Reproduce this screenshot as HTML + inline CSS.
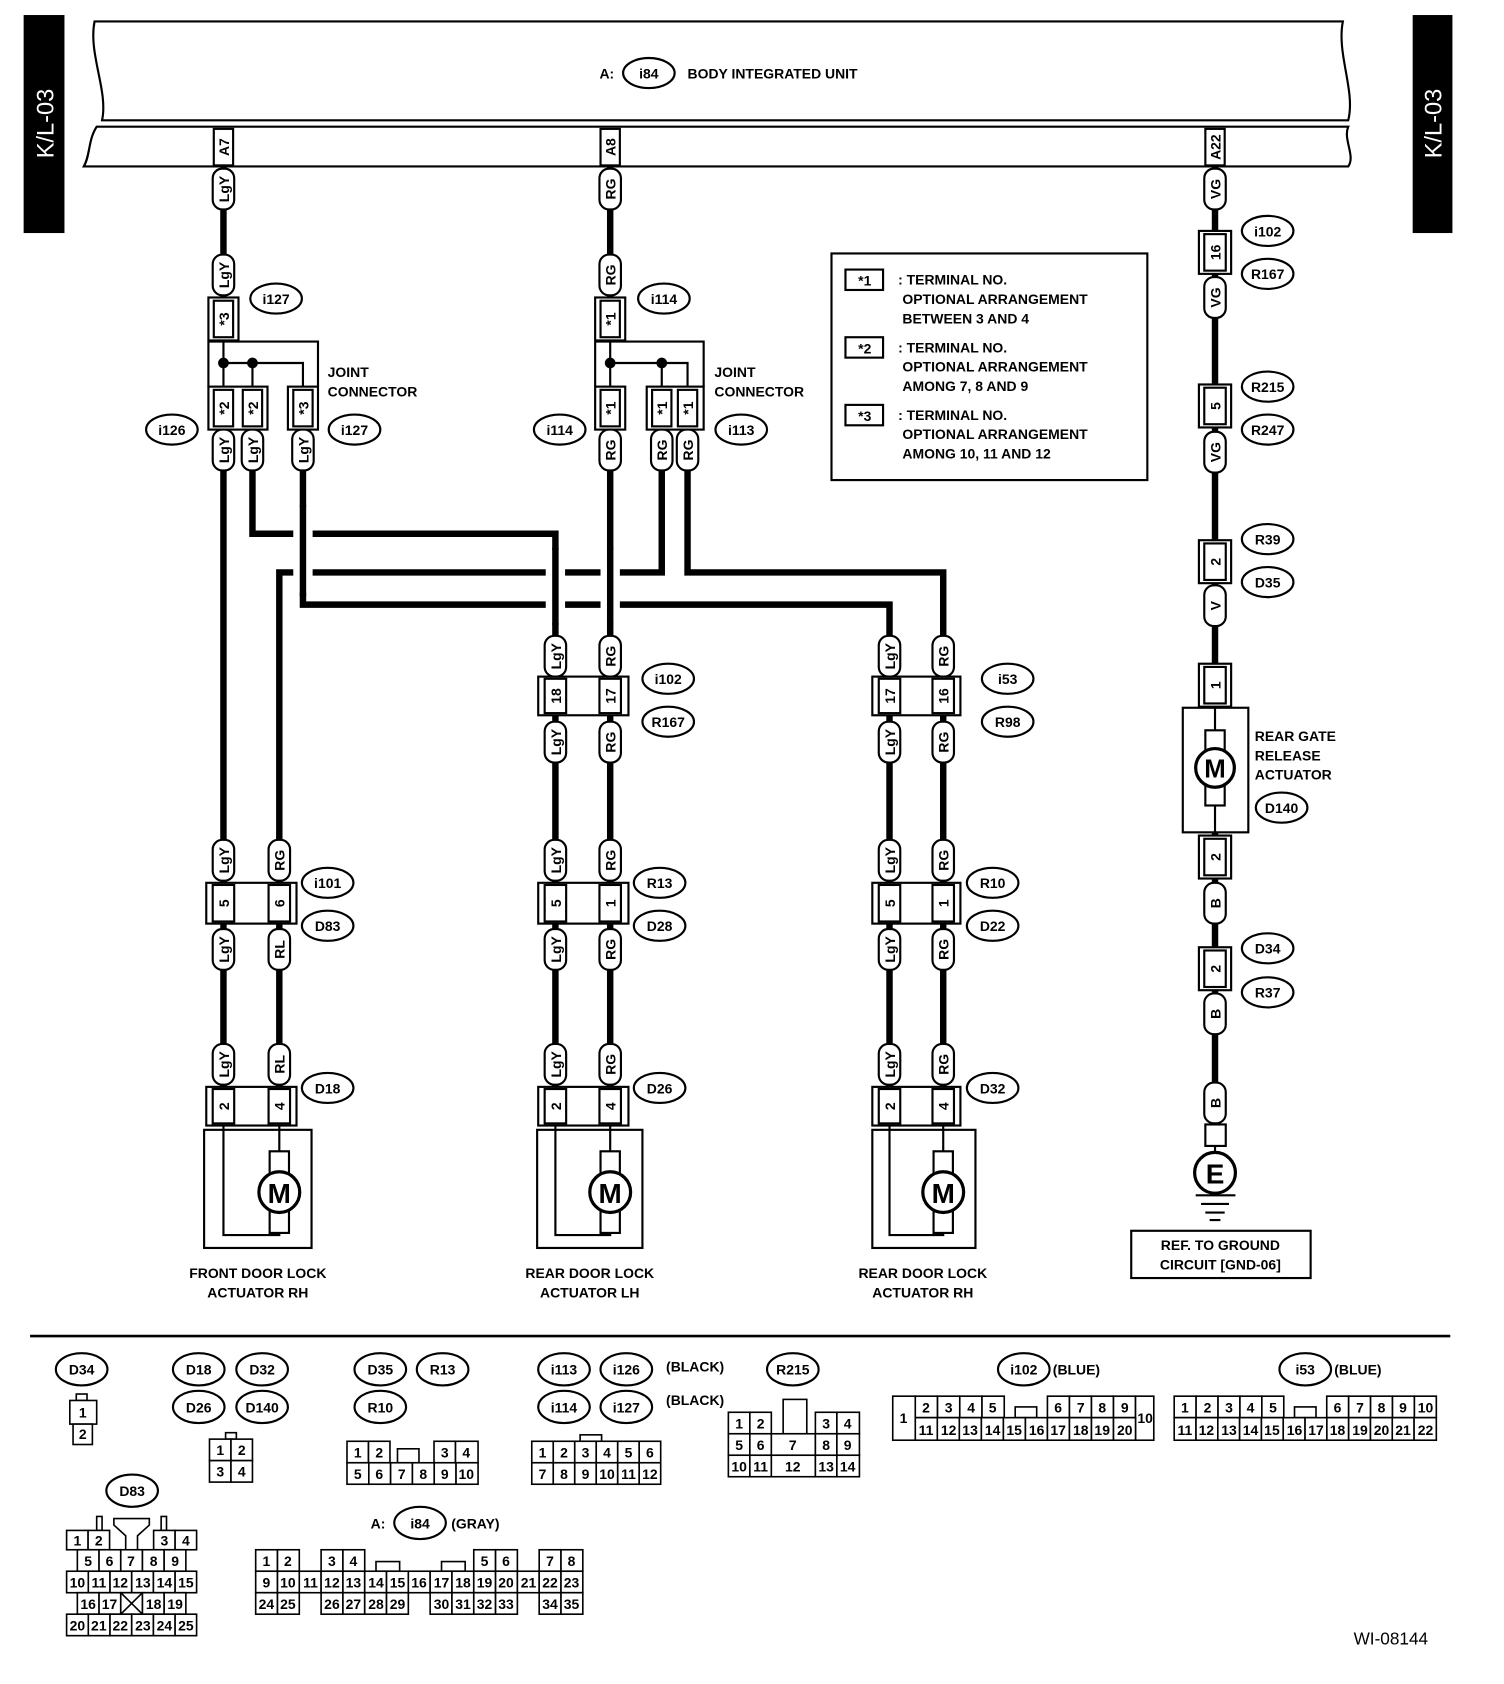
<!DOCTYPE html>
<html><head><meta charset="utf-8"><style>
html,body{margin:0;padding:0;background:#fff}
svg{display:block}
text{font-family:"Liberation Sans",sans-serif;font-size:13px;font-weight:bold;fill:#000}
.w{fill:none;stroke:#000;stroke-width:6}
.t{fill:none;stroke:#000;stroke-width:2}
.p{fill:#fff;stroke:#000;stroke-width:2}
.m{text-anchor:middle}
.g{font-size:12px;font-weight:normal;text-anchor:middle}
.g rect{fill:#fff;stroke:#000;stroke-width:1.5}
</style></head><body>
<svg width="1504" height="1684" viewBox="0 0 1400 1568" preserveAspectRatio="none" xmlns="http://www.w3.org/2000/svg">
<!-- side tabs -->
<rect x="22" y="14" width="38" height="203" fill="#000"/>
<text transform="translate(50,115) rotate(-90)" class="m" style="fill:#fff;font-size:22px;font-weight:normal">K/L-03</text>
<rect x="1315" y="14" width="37" height="203" fill="#000"/>
<text transform="translate(1342,115) rotate(-90)" class="m" style="fill:#fff;font-size:22px;font-weight:normal">K/L-03</text>
<!-- body unit -->
<path class="t" d="M88 20 H1250 C1244 50 1262 85 1255 112 H95 C101 85 82 50 88 20 Z"/>
<path class="t" d="M90 118 H1255 C1250 130 1262 145 1255 155 H78 C84 145 82 130 90 118 Z"/>
<text x="558" y="73">A:</text>
<ellipse class="p" cx="604" cy="68" rx="24" ry="14"/><text x="604" y="73" class="m">i84</text>
<text x="640" y="73">BODY INTEGRATED UNIT</text>
<!-- wires -->
<path class="w" d="M208 155 V318 M208 398 V1012"/>
<path class="w" d="M235 398 V497 H517 V1012"/>
<path class="w" d="M282 398 V563 H828 V1012"/>
<path class="w" d="M616 398 V533 H260 V1012"/>
<path class="w" d="M640 398 V533 H878 V1012"/>
<path class="w" d="M568 155 V318 M568 398 V1012"/>
<path class="w" d="M1131 155 V1047"/>
<!-- crossing gaps -->
<path d="M282 472 V552 M517 512 V580 M568 512 V580" stroke="#fff" stroke-width="18" fill="none"/>
<path class="w" d="M282 470 V555 M517 510 V582 M568 510 V582"/>
<!-- band pin labels -->
<rect class="p" x="199" y="120" width="18" height="34"/><text transform="translate(213,137) rotate(-90)" class="m">A7</text>
<rect class="p" x="559" y="120" width="18" height="34"/><text transform="translate(573,137) rotate(-90)" class="m">A8</text>
<rect class="p" x="1122" y="120" width="18" height="34"/><text transform="translate(1136,137) rotate(-90)" class="m">A22</text>
<!-- joint connector left -->
<rect class="p" x="194" y="277" width="28" height="40"/><rect class="p" x="199" y="280" width="18" height="34"/>
<text transform="translate(213,297) rotate(-90)" class="m">*3</text>
<path class="t" d="M194 318 H296 V360 M194 318 V360 M208 318 V360 M208 338 H282 V360 M235 338 V360"/>
<circle cx="208" cy="338" r="5"/><circle cx="235" cy="338" r="5"/>
<rect class="p" x="194" y="360" width="55" height="40"/><rect class="p" x="199" y="363" width="18" height="34"/><rect class="p" x="226" y="363" width="18" height="34"/>
<text transform="translate(213,380) rotate(-90)" class="m">*2</text><text transform="translate(240,380) rotate(-90)" class="m">*2</text>
<rect class="p" x="268" y="360" width="28" height="40"/><rect class="p" x="273" y="363" width="18" height="34"/>
<text transform="translate(287,380) rotate(-90)" class="m">*3</text>
<text x="305" y="351">JOINT</text><text x="305" y="369">CONNECTOR</text>
<!-- joint connector middle -->
<rect class="p" x="554" y="277" width="28" height="40"/><rect class="p" x="559" y="280" width="18" height="34"/>
<text transform="translate(573,297) rotate(-90)" class="m">*1</text>
<path class="t" d="M554 318 H655 V360 M554 318 V360 M568 318 V360 M568 338 H640 V360 M616 338 V360"/>
<circle cx="568" cy="338" r="5"/><circle cx="616" cy="338" r="5"/>
<rect class="p" x="554" y="360" width="28" height="40"/><rect class="p" x="559" y="363" width="18" height="34"/>
<text transform="translate(573,380) rotate(-90)" class="m">*1</text>
<rect class="p" x="602" y="360" width="53" height="40"/><rect class="p" x="607" y="363" width="18" height="34"/><rect class="p" x="631" y="363" width="18" height="34"/>
<text transform="translate(621,380) rotate(-90)" class="m">*1</text><text transform="translate(645,380) rotate(-90)" class="m">*1</text>
<text x="665" y="351">JOINT</text><text x="665" y="369">CONNECTOR</text>
<!-- pills -->
<g>
<rect class="p" x="198" y="157" width="20" height="38" rx="9"/><text transform="translate(213,176) rotate(-90)" class="m">LgY</text>
<rect class="p" x="198" y="237" width="20" height="38" rx="9"/><text transform="translate(213,256) rotate(-90)" class="m">LgY</text>
<rect class="p" x="198" y="400" width="20" height="38" rx="9"/><text transform="translate(213,419) rotate(-90)" class="m">LgY</text>
<rect class="p" x="225" y="400" width="20" height="38" rx="9"/><text transform="translate(240,419) rotate(-90)" class="m">LgY</text>
<rect class="p" x="272" y="400" width="20" height="38" rx="9"/><text transform="translate(287,419) rotate(-90)" class="m">LgY</text>
<rect class="p" x="558" y="157" width="20" height="38" rx="9"/><text transform="translate(573,176) rotate(-90)" class="m">RG</text>
<rect class="p" x="558" y="237" width="20" height="38" rx="9"/><text transform="translate(573,256) rotate(-90)" class="m">RG</text>
<rect class="p" x="558" y="400" width="20" height="38" rx="9"/><text transform="translate(573,419) rotate(-90)" class="m">RG</text>
<rect class="p" x="606" y="400" width="20" height="38" rx="9"/><text transform="translate(621,419) rotate(-90)" class="m">RG</text>
<rect class="p" x="630" y="400" width="20" height="38" rx="9"/><text transform="translate(645,419) rotate(-90)" class="m">RG</text>
<rect class="p" x="1121" y="157" width="20" height="38" rx="9"/><text transform="translate(1136,176) rotate(-90)" class="m">VG</text>
<rect class="p" x="1121" y="258" width="20" height="38" rx="9"/><text transform="translate(1136,277) rotate(-90)" class="m">VG</text>
<rect class="p" x="1121" y="402" width="20" height="38" rx="9"/><text transform="translate(1136,421) rotate(-90)" class="m">VG</text>
<rect class="p" x="1121" y="545" width="20" height="38" rx="9"/><text transform="translate(1136,564) rotate(-90)" class="m">V</text>
<rect class="p" x="1121" y="822" width="20" height="38" rx="9"/><text transform="translate(1136,841) rotate(-90)" class="m">B</text>
<rect class="p" x="1121" y="925" width="20" height="38" rx="9"/><text transform="translate(1136,944) rotate(-90)" class="m">B</text>
<rect class="p" x="1121" y="1008" width="20" height="38" rx="9"/><text transform="translate(1136,1027) rotate(-90)" class="m">B</text>
<rect class="p" x="198" y="782" width="20" height="38" rx="9"/><text transform="translate(213,801) rotate(-90)" class="m">LgY</text>
<rect class="p" x="198" y="865" width="20" height="38" rx="9"/><text transform="translate(213,884) rotate(-90)" class="m">LgY</text>
<rect class="p" x="198" y="972" width="20" height="38" rx="9"/><text transform="translate(213,991) rotate(-90)" class="m">LgY</text>
<rect class="p" x="250" y="782" width="20" height="38" rx="9"/><text transform="translate(265,801) rotate(-90)" class="m">RG</text>
<rect class="p" x="250" y="865" width="20" height="38" rx="9"/><text transform="translate(265,884) rotate(-90)" class="m">RL</text>
<rect class="p" x="250" y="972" width="20" height="38" rx="9"/><text transform="translate(265,991) rotate(-90)" class="m">RL</text>
<rect class="p" x="507" y="592" width="20" height="38" rx="9"/><text transform="translate(522,611) rotate(-90)" class="m">LgY</text>
<rect class="p" x="507" y="672" width="20" height="38" rx="9"/><text transform="translate(522,691) rotate(-90)" class="m">LgY</text>
<rect class="p" x="507" y="782" width="20" height="38" rx="9"/><text transform="translate(522,801) rotate(-90)" class="m">LgY</text>
<rect class="p" x="507" y="865" width="20" height="38" rx="9"/><text transform="translate(522,884) rotate(-90)" class="m">LgY</text>
<rect class="p" x="507" y="972" width="20" height="38" rx="9"/><text transform="translate(522,991) rotate(-90)" class="m">LgY</text>
<rect class="p" x="558" y="592" width="20" height="38" rx="9"/><text transform="translate(573,611) rotate(-90)" class="m">RG</text>
<rect class="p" x="558" y="672" width="20" height="38" rx="9"/><text transform="translate(573,691) rotate(-90)" class="m">RG</text>
<rect class="p" x="558" y="782" width="20" height="38" rx="9"/><text transform="translate(573,801) rotate(-90)" class="m">RG</text>
<rect class="p" x="558" y="865" width="20" height="38" rx="9"/><text transform="translate(573,884) rotate(-90)" class="m">RG</text>
<rect class="p" x="558" y="972" width="20" height="38" rx="9"/><text transform="translate(573,991) rotate(-90)" class="m">RG</text>
<rect class="p" x="818" y="592" width="20" height="38" rx="9"/><text transform="translate(833,611) rotate(-90)" class="m">LgY</text>
<rect class="p" x="818" y="672" width="20" height="38" rx="9"/><text transform="translate(833,691) rotate(-90)" class="m">LgY</text>
<rect class="p" x="818" y="782" width="20" height="38" rx="9"/><text transform="translate(833,801) rotate(-90)" class="m">LgY</text>
<rect class="p" x="818" y="865" width="20" height="38" rx="9"/><text transform="translate(833,884) rotate(-90)" class="m">LgY</text>
<rect class="p" x="818" y="972" width="20" height="38" rx="9"/><text transform="translate(833,991) rotate(-90)" class="m">LgY</text>
<rect class="p" x="868" y="592" width="20" height="38" rx="9"/><text transform="translate(883,611) rotate(-90)" class="m">RG</text>
<rect class="p" x="868" y="672" width="20" height="38" rx="9"/><text transform="translate(883,691) rotate(-90)" class="m">RG</text>
<rect class="p" x="868" y="782" width="20" height="38" rx="9"/><text transform="translate(883,801) rotate(-90)" class="m">RG</text>
<rect class="p" x="868" y="865" width="20" height="38" rx="9"/><text transform="translate(883,884) rotate(-90)" class="m">RG</text>
<rect class="p" x="868" y="972" width="20" height="38" rx="9"/><text transform="translate(883,991) rotate(-90)" class="m">RG</text>
</g>
<!-- two-pin connectors -->
<g>
<rect class="p" x="501" y="630" width="84" height="36"/><rect class="p" x="507" y="632" width="20" height="32"/><rect class="p" x="558" y="632" width="20" height="32"/>
<text transform="translate(522,648) rotate(-90)" class="m">18</text><text transform="translate(573,648) rotate(-90)" class="m">17</text>
<rect class="p" x="501" y="822" width="84" height="38"/><rect class="p" x="507" y="824" width="20" height="34"/><rect class="p" x="558" y="824" width="20" height="34"/>
<text transform="translate(522,841) rotate(-90)" class="m">5</text><text transform="translate(573,841) rotate(-90)" class="m">1</text>
<rect class="p" x="501" y="1012" width="84" height="36"/><rect class="p" x="507" y="1014" width="20" height="32"/><rect class="p" x="558" y="1014" width="20" height="32"/>
<text transform="translate(522,1030) rotate(-90)" class="m">2</text><text transform="translate(573,1030) rotate(-90)" class="m">4</text>
<rect class="p" x="192" y="822" width="84" height="38"/><rect class="p" x="198" y="824" width="20" height="34"/><rect class="p" x="250" y="824" width="20" height="34"/>
<text transform="translate(213,841) rotate(-90)" class="m">5</text><text transform="translate(265,841) rotate(-90)" class="m">6</text>
<rect class="p" x="192" y="1012" width="84" height="36"/><rect class="p" x="198" y="1014" width="20" height="32"/><rect class="p" x="250" y="1014" width="20" height="32"/>
<text transform="translate(213,1030) rotate(-90)" class="m">2</text><text transform="translate(265,1030) rotate(-90)" class="m">4</text>
<rect class="p" x="812" y="630" width="82" height="36"/><rect class="p" x="818" y="632" width="20" height="32"/><rect class="p" x="868" y="632" width="20" height="32"/>
<text transform="translate(833,648) rotate(-90)" class="m">17</text><text transform="translate(883,648) rotate(-90)" class="m">16</text>
<rect class="p" x="812" y="822" width="82" height="38"/><rect class="p" x="818" y="824" width="20" height="34"/><rect class="p" x="868" y="824" width="20" height="34"/>
<text transform="translate(833,841) rotate(-90)" class="m">5</text><text transform="translate(883,841) rotate(-90)" class="m">1</text>
<rect class="p" x="812" y="1012" width="82" height="36"/><rect class="p" x="818" y="1014" width="20" height="32"/><rect class="p" x="868" y="1014" width="20" height="32"/>
<text transform="translate(833,1030) rotate(-90)" class="m">2</text><text transform="translate(883,1030) rotate(-90)" class="m">4</text>
</g>
<!-- right single pin connectors -->
<g>
<rect class="p" x="1116" y="215" width="30" height="40"/><rect class="p" x="1121" y="218" width="20" height="34"/><text transform="translate(1136,235) rotate(-90)" class="m">16</text>
<rect class="p" x="1116" y="358" width="30" height="40"/><rect class="p" x="1121" y="361" width="20" height="34"/><text transform="translate(1136,378) rotate(-90)" class="m">5</text>
<rect class="p" x="1116" y="503" width="30" height="40"/><rect class="p" x="1121" y="506" width="20" height="34"/><text transform="translate(1136,523) rotate(-90)" class="m">2</text>
<rect class="p" x="1116" y="618" width="30" height="40"/><rect class="p" x="1121" y="621" width="20" height="34"/><text transform="translate(1136,638) rotate(-90)" class="m">1</text>
<rect class="p" x="1116" y="778" width="30" height="40"/><rect class="p" x="1121" y="781" width="20" height="34"/><text transform="translate(1136,798) rotate(-90)" class="m">2</text>
<rect class="p" x="1116" y="882" width="30" height="40"/><rect class="p" x="1121" y="885" width="20" height="34"/><text transform="translate(1136,902) rotate(-90)" class="m">2</text>
</g>
<!-- rear gate actuator -->
<rect class="p" x="1101" y="659" width="61" height="116"/>
<path class="t" d="M1131 659 V775"/>
<rect class="p" x="1122" y="680" width="18" height="70"/>
<circle class="p" cx="1131" cy="715" r="18" style="stroke-width:3"/><text x="1131" y="724" class="m" style="font-size:24px">M</text>
<text x="1168" y="690">REAR GATE</text><text x="1168" y="708">RELEASE</text><text x="1168" y="726">ACTUATOR</text>
<!-- ground -->
<rect class="p" x="1122" y="1047" width="19" height="20"/>
<path class="t" d="M1131 1067 V1072"/>
<circle class="p" cx="1131" cy="1092" r="19" style="stroke-width:3"/><text x="1131" y="1102" class="m" style="font-size:26px">E</text>
<path class="t" d="M1113 1113 H1150 M1118 1121 H1144 M1122 1129 H1140 M1126 1136 H1136"/>
<rect class="p" x="1053" y="1146" width="167" height="44"/>
<text x="1136" y="1164" class="m">REF. TO GROUND</text><text x="1136" y="1182" class="m">CIRCUIT [GND-06]</text>
<!-- door actuators -->
<g>
<rect class="p" x="190" y="1052" width="100" height="110"/>
<path class="t" d="M208 1048 V1150 H260 V1130 M260 1048 V1072"/>
<rect class="p" x="251" y="1072" width="18" height="76"/>
<circle class="p" cx="260" cy="1110" r="19" style="stroke-width:3"/><text x="260" y="1120" class="m" style="font-size:26px">M</text>
<text x="240" y="1190" class="m">FRONT DOOR LOCK</text><text x="240" y="1208" class="m">ACTUATOR RH</text>
<rect class="p" x="500" y="1052" width="98" height="110"/>
<path class="t" d="M517 1048 V1150 H568 V1130 M568 1048 V1072"/>
<rect class="p" x="559" y="1072" width="18" height="76"/>
<circle class="p" cx="568" cy="1110" r="19" style="stroke-width:3"/><text x="568" y="1120" class="m" style="font-size:26px">M</text>
<text x="549" y="1190" class="m">REAR DOOR LOCK</text><text x="549" y="1208" class="m">ACTUATOR LH</text>
<rect class="p" x="812" y="1052" width="96" height="110"/>
<path class="t" d="M828 1048 V1150 H878 V1130 M878 1048 V1072"/>
<rect class="p" x="869" y="1072" width="18" height="76"/>
<circle class="p" cx="878" cy="1110" r="19" style="stroke-width:3"/><text x="878" y="1120" class="m" style="font-size:26px">M</text>
<text x="859" y="1190" class="m">REAR DOOR LOCK</text><text x="859" y="1208" class="m">ACTUATOR RH</text>
</g>
<!-- legend -->
<rect class="p" x="774" y="236" width="294" height="211"/>
<rect class="p" x="787" y="251" width="35" height="19"/><text x="805" y="266" class="m">*1</text>
<rect class="p" x="787" y="314" width="35" height="19"/><text x="805" y="329" class="m">*2</text>
<rect class="p" x="787" y="377" width="35" height="19"/><text x="805" y="392" class="m">*3</text>
<text x="836" y="265">: TERMINAL NO.</text><text x="840" y="283">OPTIONAL ARRANGEMENT</text><text x="840" y="301">BETWEEN 3 AND 4</text>
<text x="836" y="328">: TERMINAL NO.</text><text x="840" y="346">OPTIONAL ARRANGEMENT</text><text x="840" y="364">AMONG 7, 8 AND 9</text>
<text x="836" y="391">: TERMINAL NO.</text><text x="840" y="409">OPTIONAL ARRANGEMENT</text><text x="840" y="427">AMONG 10, 11 AND 12</text>
<!-- ellipses -->
<g>
<ellipse class="p" cx="257" cy="278" rx="24" ry="14"/><text x="257" y="283" class="m">i127</text>
<ellipse class="p" cx="160" cy="400" rx="24" ry="14"/><text x="160" y="405" class="m">i126</text>
<ellipse class="p" cx="330" cy="400" rx="24" ry="14"/><text x="330" y="405" class="m">i127</text>
<ellipse class="p" cx="618" cy="278" rx="24" ry="14"/><text x="618" y="283" class="m">i114</text>
<ellipse class="p" cx="521" cy="400" rx="24" ry="14"/><text x="521" y="405" class="m">i114</text>
<ellipse class="p" cx="690" cy="400" rx="24" ry="14"/><text x="690" y="405" class="m">i113</text>
<ellipse class="p" cx="622" cy="632" rx="24" ry="14"/><text x="622" y="637" class="m">i102</text>
<ellipse class="p" cx="622" cy="672" rx="24" ry="14"/><text x="622" y="677" class="m">R167</text>
<ellipse class="p" cx="938" cy="632" rx="24" ry="14"/><text x="938" y="637" class="m">i53</text>
<ellipse class="p" cx="938" cy="672" rx="24" ry="14"/><text x="938" y="677" class="m">R98</text>
<ellipse class="p" cx="305" cy="822" rx="24" ry="14"/><text x="305" y="827" class="m">i101</text>
<ellipse class="p" cx="305" cy="862" rx="24" ry="14"/><text x="305" y="867" class="m">D83</text>
<ellipse class="p" cx="614" cy="822" rx="24" ry="14"/><text x="614" y="827" class="m">R13</text>
<ellipse class="p" cx="614" cy="862" rx="24" ry="14"/><text x="614" y="867" class="m">D28</text>
<ellipse class="p" cx="924" cy="822" rx="24" ry="14"/><text x="924" y="827" class="m">R10</text>
<ellipse class="p" cx="924" cy="862" rx="24" ry="14"/><text x="924" y="867" class="m">D22</text>
<ellipse class="p" cx="305" cy="1013" rx="24" ry="14"/><text x="305" y="1018" class="m">D18</text>
<ellipse class="p" cx="614" cy="1013" rx="24" ry="14"/><text x="614" y="1018" class="m">D26</text>
<ellipse class="p" cx="924" cy="1013" rx="24" ry="14"/><text x="924" y="1018" class="m">D32</text>
<ellipse class="p" cx="1180" cy="215" rx="24" ry="14"/><text x="1180" y="220" class="m">i102</text>
<ellipse class="p" cx="1180" cy="255" rx="24" ry="14"/><text x="1180" y="260" class="m">R167</text>
<ellipse class="p" cx="1180" cy="360" rx="24" ry="14"/><text x="1180" y="365" class="m">R215</text>
<ellipse class="p" cx="1180" cy="400" rx="24" ry="14"/><text x="1180" y="405" class="m">R247</text>
<ellipse class="p" cx="1180" cy="502" rx="24" ry="14"/><text x="1180" y="507" class="m">R39</text>
<ellipse class="p" cx="1180" cy="542" rx="24" ry="14"/><text x="1180" y="547" class="m">D35</text>
<ellipse class="p" cx="1193" cy="752" rx="24" ry="14"/><text x="1193" y="757" class="m">D140</text>
<ellipse class="p" cx="1180" cy="883" rx="24" ry="14"/><text x="1180" y="888" class="m">D34</text>
<ellipse class="p" cx="1180" cy="924" rx="24" ry="14"/><text x="1180" y="929" class="m">R37</text>
</g>
<!-- divider -->
<path d="M28 1244 H1350" stroke="#000" stroke-width="2.5"/>
<!-- bottom ellipses -->
<g>
<ellipse class="p" cx="76" cy="1275" rx="24" ry="15"/><text x="76" y="1280" class="m">D34</text>
<ellipse class="p" cx="185" cy="1275" rx="24" ry="15"/><text x="185" y="1280" class="m">D18</text>
<ellipse class="p" cx="244" cy="1275" rx="24" ry="15"/><text x="244" y="1280" class="m">D32</text>
<ellipse class="p" cx="185" cy="1310" rx="24" ry="15"/><text x="185" y="1315" class="m">D26</text>
<ellipse class="p" cx="244" cy="1310" rx="24" ry="15"/><text x="244" y="1315" class="m">D140</text>
<ellipse class="p" cx="354" cy="1275" rx="24" ry="15"/><text x="354" y="1280" class="m">D35</text>
<ellipse class="p" cx="412" cy="1275" rx="24" ry="15"/><text x="412" y="1280" class="m">R13</text>
<ellipse class="p" cx="354" cy="1310" rx="24" ry="15"/><text x="354" y="1315" class="m">R10</text>
<ellipse class="p" cx="525" cy="1275" rx="24" ry="15"/><text x="525" y="1280" class="m">i113</text>
<ellipse class="p" cx="583" cy="1275" rx="24" ry="15"/><text x="583" y="1280" class="m">i126</text>
<ellipse class="p" cx="525" cy="1310" rx="24" ry="15"/><text x="525" y="1315" class="m">i114</text>
<ellipse class="p" cx="583" cy="1310" rx="24" ry="15"/><text x="583" y="1315" class="m">i127</text>
<text x="620" y="1277">(BLACK)</text><text x="620" y="1308">(BLACK)</text>
<ellipse class="p" cx="738" cy="1275" rx="24" ry="15"/><text x="738" y="1280" class="m">R215</text>
<ellipse class="p" cx="953" cy="1275" rx="24" ry="15"/><text x="953" y="1280" class="m">i102</text><text x="980" y="1280">(BLUE)</text>
<ellipse class="p" cx="1215" cy="1275" rx="24" ry="15"/><text x="1215" y="1280" class="m">i53</text><text x="1242" y="1280">(BLUE)</text>
<ellipse class="p" cx="123" cy="1388" rx="24" ry="15"/><text x="123" y="1393" class="m">D83</text>
<text x="345" y="1423">A:</text>
<ellipse class="p" cx="391" cy="1418" rx="24" ry="15"/><text x="391" y="1423" class="m">i84</text><text x="420" y="1423">(GRAY)</text>
</g>
<!-- bottom connectors -->
<g class="g">
<rect x="71" y="1298" width="10" height="6"/><rect x="65" y="1304" width="25" height="22"/><text x="77" y="1320">1</text>
<rect x="68" y="1326" width="18" height="19"/><text x="77" y="1340">2</text>
<rect x="210" y="1334" width="10" height="6"/>
<rect x="195" y="1340" width="20" height="20"/><text x="205" y="1355">1</text>
<rect x="215" y="1340" width="20" height="20"/><text x="225" y="1355">2</text>
<rect x="195" y="1360" width="20" height="20"/><text x="205" y="1375">3</text>
<rect x="215" y="1360" width="20" height="20"/><text x="225" y="1375">4</text>
<rect x="323" y="1342" width="20" height="20"/><text x="333" y="1357">1</text>
<rect x="343" y="1342" width="20" height="20"/><text x="353" y="1357">2</text>
<rect x="370" y="1349" width="20" height="13"/>
<rect x="404" y="1342" width="20" height="20"/><text x="414" y="1357">3</text>
<rect x="424" y="1342" width="21" height="20"/><text x="434" y="1357">4</text>
<rect x="323" y="1362" width="20.3" height="20"/><text x="333" y="1377">5</text>
<rect x="343.3" y="1362" width="20.3" height="20"/><text x="353" y="1377">6</text>
<rect x="363.6" y="1362" width="20.3" height="20"/><text x="374" y="1377">7</text>
<rect x="383.9" y="1362" width="20.3" height="20"/><text x="394" y="1377">8</text>
<rect x="404.2" y="1362" width="20.3" height="20"/><text x="414" y="1377">9</text>
<rect x="424.5" y="1362" width="20.5" height="20"/><text x="434" y="1377">10</text>
<rect x="540" y="1336" width="20" height="6"/>
<rect x="495" y="1342" width="20" height="20"/><text x="505" y="1357">1</text>
<rect x="515" y="1342" width="20" height="20"/><text x="525" y="1357">2</text>
<rect x="535" y="1342" width="20" height="20"/><text x="545" y="1357">3</text>
<rect x="555" y="1342" width="20" height="20"/><text x="565" y="1357">4</text>
<rect x="575" y="1342" width="20" height="20"/><text x="585" y="1357">5</text>
<rect x="595" y="1342" width="20" height="20"/><text x="605" y="1357">6</text>
<rect x="495" y="1362" width="20" height="20"/><text x="505" y="1377">7</text>
<rect x="515" y="1362" width="20" height="20"/><text x="525" y="1377">8</text>
<rect x="535" y="1362" width="20" height="20"/><text x="545" y="1377">9</text>
<rect x="555" y="1362" width="20" height="20"/><text x="565" y="1377">10</text>
<rect x="575" y="1362" width="20" height="20"/><text x="585" y="1377">11</text>
<rect x="595" y="1362" width="20" height="20"/><text x="605" y="1377">12</text>
<rect x="729" y="1303" width="22" height="32"/>
<rect x="678" y="1315" width="20" height="20"/><text x="688" y="1330">1</text>
<rect x="698" y="1315" width="20" height="20"/><text x="708" y="1330">2</text>
<rect x="759" y="1315" width="20" height="20"/><text x="769" y="1330">3</text>
<rect x="779" y="1315" width="21" height="20"/><text x="789" y="1330">4</text>
<rect x="678" y="1335" width="20" height="20"/><text x="688" y="1350">5</text>
<rect x="698" y="1335" width="20" height="20"/><text x="708" y="1350">6</text>
<rect x="718" y="1335" width="41" height="20"/><text x="738" y="1350">7</text>
<rect x="759" y="1335" width="20" height="20"/><text x="769" y="1350">8</text>
<rect x="779" y="1335" width="21" height="20"/><text x="789" y="1350">9</text>
<rect x="678" y="1355" width="20" height="20"/><text x="688" y="1370">10</text>
<rect x="698" y="1355" width="20" height="20"/><text x="708" y="1370">11</text>
<rect x="718" y="1355" width="41" height="20"/><text x="738" y="1370">12</text>
<rect x="759" y="1355" width="20" height="20"/><text x="769" y="1370">13</text>
<rect x="779" y="1355" width="21" height="20"/><text x="789" y="1370">14</text>
<rect x="831" y="1300" width="21" height="41"/><text x="841" y="1325">1</text>
<rect x="852" y="1300" width="20.7" height="20"/><text x="862" y="1315">2</text>
<rect x="872.7" y="1300" width="20.7" height="20"/><text x="883" y="1315">3</text>
<rect x="893.4" y="1300" width="20.7" height="20"/><text x="904" y="1315">4</text>
<rect x="914.1" y="1300" width="20.7" height="20"/><text x="924" y="1315">5</text>
<rect x="945" y="1310" width="20" height="10"/>
<rect x="975" y="1300" width="20.5" height="20"/><text x="985" y="1315">6</text>
<rect x="995.5" y="1300" width="20.5" height="20"/><text x="1006" y="1315">7</text>
<rect x="1016" y="1300" width="20.5" height="20"/><text x="1026" y="1315">8</text>
<rect x="1036.5" y="1300" width="20.5" height="20"/><text x="1047" y="1315">9</text>
<rect x="1057" y="1300" width="17" height="41"/><text x="1066" y="1325">10</text>
<rect x="852" y="1320" width="20.5" height="21"/><text x="862" y="1336">11</text>
<rect x="872.5" y="1320" width="20.5" height="21"/><text x="883" y="1336">12</text>
<rect x="893" y="1320" width="20.5" height="21"/><text x="903" y="1336">13</text>
<rect x="913.5" y="1320" width="20.5" height="21"/><text x="924" y="1336">14</text>
<rect x="934" y="1320" width="20.5" height="21"/><text x="944" y="1336">15</text>
<rect x="954.5" y="1320" width="20.5" height="21"/><text x="965" y="1336">16</text>
<rect x="975" y="1320" width="20.5" height="21"/><text x="985" y="1336">17</text>
<rect x="995.5" y="1320" width="20.5" height="21"/><text x="1006" y="1336">18</text>
<rect x="1016" y="1320" width="20.5" height="21"/><text x="1026" y="1336">19</text>
<rect x="1036.5" y="1320" width="20.5" height="21"/><text x="1047" y="1336">20</text>
<rect x="1093" y="1300" width="20.4" height="20"/><text x="1103" y="1315">1</text>
<rect x="1113.4" y="1300" width="20.4" height="20"/><text x="1124" y="1315">2</text>
<rect x="1133.8" y="1300" width="20.4" height="20"/><text x="1144" y="1315">3</text>
<rect x="1154.2" y="1300" width="20.4" height="20"/><text x="1164" y="1315">4</text>
<rect x="1174.6" y="1300" width="20.4" height="20"/><text x="1185" y="1315">5</text>
<rect x="1205" y="1310" width="20" height="10"/>
<rect x="1235" y="1300" width="20.4" height="20"/><text x="1245" y="1315">6</text>
<rect x="1255.4" y="1300" width="20.4" height="20"/><text x="1266" y="1315">7</text>
<rect x="1275.8" y="1300" width="20.4" height="20"/><text x="1286" y="1315">8</text>
<rect x="1296.2" y="1300" width="20.4" height="20"/><text x="1306" y="1315">9</text>
<rect x="1316.6" y="1300" width="20.4" height="20"/><text x="1327" y="1315">10</text>
<rect x="1093" y="1320" width="20.3" height="21"/><text x="1103" y="1336">11</text>
<rect x="1113.3" y="1320" width="20.3" height="21"/><text x="1123" y="1336">12</text>
<rect x="1133.6" y="1320" width="20.3" height="21"/><text x="1144" y="1336">13</text>
<rect x="1153.9" y="1320" width="20.3" height="21"/><text x="1164" y="1336">14</text>
<rect x="1174.2" y="1320" width="20.3" height="21"/><text x="1184" y="1336">15</text>
<rect x="1194.5" y="1320" width="20.3" height="21"/><text x="1205" y="1336">16</text>
<rect x="1214.8" y="1320" width="20.3" height="21"/><text x="1225" y="1336">17</text>
<rect x="1235.1" y="1320" width="20.3" height="21"/><text x="1245" y="1336">18</text>
<rect x="1255.4" y="1320" width="20.3" height="21"/><text x="1266" y="1336">19</text>
<rect x="1275.7" y="1320" width="20.3" height="21"/><text x="1286" y="1336">20</text>
<rect x="1296" y="1320" width="20.3" height="21"/><text x="1306" y="1336">21</text>
<rect x="1316.3" y="1320" width="20.7" height="21"/><text x="1327" y="1336">22</text>
<rect x="90" y="1412" width="5" height="13"/><rect x="150" y="1412" width="5" height="13"/>
<path d="M106 1414 H139 V1420 L128 1430 V1443 H117 V1430 L106 1420 Z" fill="#fff" stroke="#000" stroke-width="1.5"/>
<rect x="62" y="1425" width="20" height="18"/><text x="72" y="1439">1</text>
<rect x="82" y="1425" width="20" height="18"/><text x="92" y="1439">2</text>
<rect x="143" y="1425" width="20" height="18"/><text x="153" y="1439">3</text>
<rect x="163" y="1425" width="20" height="18"/><text x="173" y="1439">4</text>
<rect x="72" y="1443" width="20.2" height="20"/><text x="82" y="1458">5</text>
<rect x="92.2" y="1443" width="20.2" height="20"/><text x="102" y="1458">6</text>
<rect x="112.4" y="1443" width="20.2" height="20"/><text x="122" y="1458">7</text>
<rect x="132.6" y="1443" width="20.2" height="20"/><text x="143" y="1458">8</text>
<rect x="152.8" y="1443" width="20.2" height="20"/><text x="163" y="1458">9</text>
<rect x="62" y="1463" width="20.2" height="20"/><text x="72" y="1478">10</text>
<rect x="82.2" y="1463" width="20.2" height="20"/><text x="92" y="1478">11</text>
<rect x="102.4" y="1463" width="20.2" height="20"/><text x="112" y="1478">12</text>
<rect x="122.6" y="1463" width="20.2" height="20"/><text x="133" y="1478">13</text>
<rect x="142.8" y="1463" width="20.2" height="20"/><text x="153" y="1478">14</text>
<rect x="163" y="1463" width="20" height="20"/><text x="173" y="1478">15</text>
<rect x="72" y="1483" width="20.2" height="20"/><text x="82" y="1498">16</text>
<rect x="92.2" y="1483" width="20.2" height="20"/><text x="102" y="1498">17</text>
<rect x="112.4" y="1483" width="20.2" height="20"/><path d="M112.4 1483 L132.6 1503 M132.6 1483 L112.4 1503" stroke="#000" stroke-width="1.5"/>
<rect x="132.6" y="1483" width="20.2" height="20"/><text x="143" y="1498">18</text>
<rect x="152.8" y="1483" width="20.2" height="20"/><text x="163" y="1498">19</text>
<rect x="62" y="1503" width="20.2" height="20"/><text x="72" y="1518">20</text>
<rect x="82.2" y="1503" width="20.2" height="20"/><text x="92" y="1518">21</text>
<rect x="102.4" y="1503" width="20.2" height="20"/><text x="112" y="1518">22</text>
<rect x="122.6" y="1503" width="20.2" height="20"/><text x="133" y="1518">23</text>
<rect x="142.8" y="1503" width="20.2" height="20"/><text x="153" y="1518">24</text>
<rect x="163" y="1503" width="20" height="20"/><text x="173" y="1518">25</text>
<rect x="238" y="1443" width="20.3" height="20"/><text x="248" y="1458">1</text>
<rect x="258.3" y="1443" width="20.3" height="20"/><text x="268" y="1458">2</text>
<rect x="298.9" y="1443" width="20.3" height="20"/><text x="309" y="1458">3</text>
<rect x="319.2" y="1443" width="20.3" height="20"/><text x="329" y="1458">4</text>
<rect x="350" y="1454" width="22" height="9"/>
<rect x="411" y="1454" width="22" height="9"/>
<rect x="441" y="1443" width="20.3" height="20"/><text x="451" y="1458">5</text>
<rect x="461.3" y="1443" width="20.3" height="20"/><text x="471" y="1458">6</text>
<rect x="501.9" y="1443" width="20.3" height="20"/><text x="512" y="1458">7</text>
<rect x="522.2" y="1443" width="20.3" height="20"/><text x="532" y="1458">8</text>
<rect x="238" y="1463" width="20.3" height="20"/><text x="248" y="1478">9</text>
<rect x="258.3" y="1463" width="20.3" height="20"/><text x="268" y="1478">10</text>
<rect x="278.6" y="1463" width="20.3" height="20"/><text x="289" y="1478">11</text>
<rect x="298.9" y="1463" width="20.3" height="20"/><text x="309" y="1478">12</text>
<rect x="319.2" y="1463" width="20.3" height="20"/><text x="329" y="1478">13</text>
<rect x="339.5" y="1463" width="20.3" height="20"/><text x="350" y="1478">14</text>
<rect x="359.8" y="1463" width="20.3" height="20"/><text x="370" y="1478">15</text>
<rect x="380.1" y="1463" width="20.3" height="20"/><text x="390" y="1478">16</text>
<rect x="400.4" y="1463" width="20.3" height="20"/><text x="411" y="1478">17</text>
<rect x="420.7" y="1463" width="20.3" height="20"/><text x="431" y="1478">18</text>
<rect x="441" y="1463" width="20.3" height="20"/><text x="451" y="1478">19</text>
<rect x="461.3" y="1463" width="20.3" height="20"/><text x="471" y="1478">20</text>
<rect x="481.6" y="1463" width="20.3" height="20"/><text x="492" y="1478">21</text>
<rect x="501.9" y="1463" width="20.3" height="20"/><text x="512" y="1478">22</text>
<rect x="522.2" y="1463" width="20.3" height="20"/><text x="532" y="1478">23</text>
<rect x="238" y="1483" width="20.3" height="20"/><text x="248" y="1498">24</text>
<rect x="258.3" y="1483" width="20.3" height="20"/><text x="268" y="1498">25</text>
<rect x="298.9" y="1483" width="20.3" height="20"/><text x="309" y="1498">26</text>
<rect x="319.2" y="1483" width="20.3" height="20"/><text x="329" y="1498">27</text>
<rect x="339.5" y="1483" width="20.3" height="20"/><text x="350" y="1498">28</text>
<rect x="359.8" y="1483" width="20.3" height="20"/><text x="370" y="1498">29</text>
<rect x="400.4" y="1483" width="20.3" height="20"/><text x="411" y="1498">30</text>
<rect x="420.7" y="1483" width="20.3" height="20"/><text x="431" y="1498">31</text>
<rect x="441" y="1483" width="20.3" height="20"/><text x="451" y="1498">32</text>
<rect x="461.3" y="1483" width="20.3" height="20"/><text x="471" y="1498">33</text>
<rect x="501.9" y="1483" width="20.3" height="20"/><text x="512" y="1498">34</text>
<rect x="522.2" y="1483" width="20.3" height="20"/><text x="532" y="1498">35</text>
</g>
<text x="1260" y="1531" style="font-weight:normal;font-size:16px">WI-08144</text>
</svg>
</body></html>
